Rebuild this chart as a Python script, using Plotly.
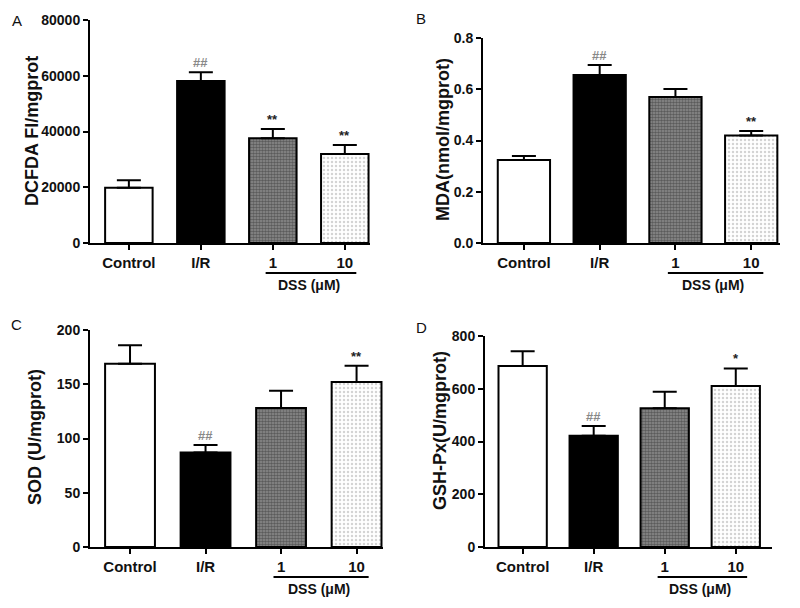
import plotly.graph_objects as go

categories = ["Control", "I/R", "1", "10"]

dcfda_mean = [19800, 58100, 37600, 31900]
dcfda_sem = [2700, 3200, 3300, 3300]
dcfda_sig = ["", "##", "**", "**"]

mda_mean = [0.324, 0.656, 0.570, 0.420]
mda_sem = [0.016, 0.039, 0.031, 0.017]
mda_sig = ["", "##", "", "**"]

sod_mean = [169, 87, 128, 152]
sod_sem = [17, 7, 16, 15]
sod_sig = ["", "##", "", "**"]

gsh_mean = [686, 422, 526, 610]
gsh_sem = [56, 37, 63, 67]
gsh_sig = ["", "##", "", "*"]

W, H = 800, 608
OFF = 8  # page body margin of the rendered html


def px_x(v):
    return (v - OFF) / W


def px_y(v):
    return 1 - (v - OFF) / H


panels = [
    dict(letter="A", mean=dcfda_mean, sem=dcfda_sem, sig=dcfda_sig,
         title="DCFDA FI/mgprot", yr=[0, 80000], dtick=20000, fmt="d",
         xpx=(90, 370), ypx=(243, 20), xr=[-0.54, 3.35], width=0.66,
         letter_xy=(17, 20), title_xy=(32, 131)),
    dict(letter="B", mean=mda_mean, sem=mda_sem, sig=mda_sig,
         title="MDA(nmol/mgprot)", yr=[0, 0.8], dtick=0.2, fmt=".1f",
         xpx=(483, 780), ypx=(243, 38), xr=[-0.54, 3.38], width=0.69,
         letter_xy=(421, 19), title_xy=(443, 139)),
    dict(letter="C", mean=sod_mean, sem=sod_sem, sig=sod_sig,
         title="SOD (U/mgprot)", yr=[0, 200], dtick=50, fmt="d",
         xpx=(90, 383), ypx=(547, 330), xr=[-0.53, 3.35], width=0.66,
         letter_xy=(16, 324), title_xy=(35, 437)),
    dict(letter="D", mean=gsh_mean, sem=gsh_sem, sig=gsh_sig,
         title="GSH-Px(U/mgprot)", yr=[0, 800], dtick=200, fmt="d",
         xpx=(485, 772), ypx=(547, 336), xr=[-0.53, 3.51], width=0.68,
         letter_xy=(422, 327), title_xy=(440, 431)),
]

fills = [
    dict(color="white"),
    dict(color="black"),
    dict(color="#707070", pattern=dict(shape=".", fgcolor="#2a2a2a", bgcolor="#8c8c8c", size=3, solidity=0.55)),
    dict(color="white", pattern=dict(shape=".", fgcolor="#a8a8a8", bgcolor="white", size=4, solidity=0.3)),
]

FONT = "Liberation Sans, Arial, sans-serif"
fig = go.Figure()
annotations = []
shapes = []
xs = list(range(len(categories)))

for i, p in enumerate(panels):
    n = "" if i == 0 else str(i + 1)
    xa, ya = "x" + n, "y" + n
    xdom = [px_x(p["xpx"][0]), px_x(p["xpx"][1])]
    ydom = [px_y(p["ypx"][0]), px_y(p["ypx"][1])]
    for j in xs:
        mk = dict(line=dict(color="black", width=2))
        mk.update(fills[j])
        fig.add_trace(go.Bar(
            x=[xs[j]], y=[p["mean"][j]], width=p["width"], marker=mk,
            error_y=dict(type="data", symmetric=False, array=[p["sem"][j]], arrayminus=[0],
                         color="black", thickness=2, width=12),
            xaxis=xa, yaxis=ya, showlegend=False))
        if p["sig"][j]:
            annotations.append(dict(
                x=xs[j], y=p["mean"][j] + p["sem"][j], xref=xa, yref=ya,
                text="<b>" + p["sig"][j] + "</b>", showarrow=False, yanchor="bottom", yshift=0,
                font=dict(family=FONT, size=13, color="#888" if "#" in p["sig"][j] else "#222")))
    fig.update_layout({
        "xaxis" + n: dict(domain=xdom, range=p["xr"], anchor=ya, tickmode="array",
                          tickvals=xs, ticktext=categories, showline=True, linecolor="black",
                          linewidth=2, ticks="outside", ticklen=5, tickwidth=2, tickcolor="black",
                          showgrid=False, zeroline=False, automargin=False,
                          tickfont=dict(family=FONT, size=15, color="#111", weight="bold")),
        "yaxis" + n: dict(domain=ydom, range=p["yr"], anchor=xa, dtick=p["dtick"],
                          tickformat=p["fmt"], showline=True, linecolor="black", linewidth=2,
                          ticks="outside", ticklen=5, tickwidth=2, tickcolor="black",
                          showgrid=False, zeroline=False, automargin=False,
                          tickfont=dict(family=FONT, size=14, color="#111", weight="bold")),
    })
    tx, ty = p["title_xy"]
    annotations.append(dict(x=px_x(tx), y=px_y(ty), xref="paper", yref="paper", text="<b>" + p["title"] + "</b>",
                            textangle=-90, showarrow=False, xanchor="center", yanchor="middle",
                            font=dict(family=FONT, size=18, color="#111")))
    ybot = ydom[0]
    shapes.append(dict(type="line", xref=xa, yref="paper", x0=1.9, x1=3.16,
                       y0=ybot - 30/H, y1=ybot - 30/H, line=dict(color="black", width=2)))
    annotations.append(dict(x=2.5, y=ybot - 42/H, xref=xa, yref="paper", text="<b>DSS (μM)</b>",
                            showarrow=False, yanchor="middle",
                            font=dict(family=FONT, size=14, color="#111")))
    lx, ly = p["letter_xy"]
    annotations.append(dict(x=px_x(lx), y=px_y(ly), xref="paper", yref="paper", text=p["letter"],
                            showarrow=False, xanchor="center", yanchor="middle",
                            font=dict(family=FONT, size=15, color="#111")))

fig.update_layout(width=W, height=H, margin=dict(l=0, r=0, t=0, b=0, autoexpand=False),
                  paper_bgcolor="white", plot_bgcolor="white", barmode="overlay",
                  annotations=annotations, shapes=shapes)
fig.write_html("out.html")
